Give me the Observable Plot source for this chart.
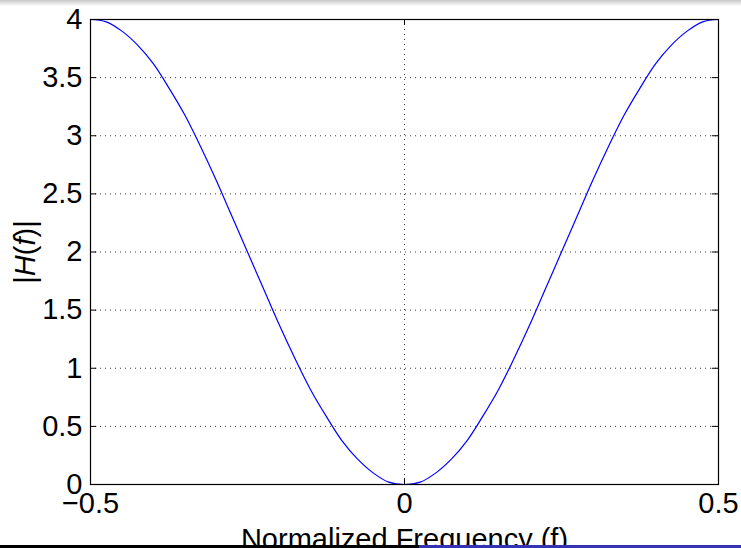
<!DOCTYPE html>
<html><head><meta charset="utf-8">
<script src="https://cdn.jsdelivr.net/npm/d3@7"></script>
<script src="https://cdn.jsdelivr.net/npm/@observablehq/plot@0.6"></script>
<style>
html,body{margin:0;padding:0;background:#fff;width:741px;height:548px;overflow:hidden;}
#wrap{position:relative;width:741px;height:548px;}
#wrap svg{position:absolute;left:0;top:0;}
#shade{position:absolute;left:0;top:0;width:741px;height:6px;background:linear-gradient(#c6c6c6,#ffffff);z-index:2;}
#barK{position:absolute;left:0;top:545px;width:419px;height:3px;background:#000;z-index:2;}
#barB{position:absolute;left:419px;top:545px;width:322px;height:3px;background:#3333b3;z-index:2;}
</style></head><body><div id="wrap"><div id="shade"></div><div id="barK"></div><div id="barB"></div></div>
<script>
const freq = [-0.5, -0.475, -0.45, -0.425, -0.4, -0.375, -0.35, -0.325, -0.3, -0.275, -0.25,
  -0.225, -0.2, -0.175, -0.15, -0.125, -0.1, -0.075, -0.05, -0.025, 0,
  0.025, 0.05, 0.075, 0.1, 0.125, 0.15, 0.175, 0.2, 0.225, 0.25,
  0.275, 0.3, 0.325, 0.35, 0.375, 0.4, 0.425, 0.45, 0.475, 0.5];
const magnitude = [4.00, 3.98, 3.90, 3.78, 3.62, 3.41, 3.18, 2.91, 2.62, 2.31, 2.00,
  1.69, 1.38, 1.09, 0.82, 0.59, 0.38, 0.22, 0.10, 0.02, 0.00,
  0.02, 0.10, 0.22, 0.38, 0.59, 0.82, 1.09, 1.38, 1.69, 2.00,
  2.31, 2.62, 2.91, 3.18, 3.41, 3.62, 3.78, 3.90, 3.98, 4.00];
const xTicks = [-0.5, 0, 0.5];
const yTicks = [0, 0.5, 1, 1.5, 2, 2.5, 3, 3.5, 4];
const xTickLabels = ["\u22120.5", "0", "0.5"];
const yTickLabels = ["0", "0.5", "1", "1.5", "2", "2.5", "3", "3.5", "4"];
const xLabel = "Normalized Frequency (f)";
const yLabel = "|H(f)|";

const data = freq.map((f, i) => ({f, h: magnitude[i]}));
const xMin = d3.min(xTicks), xMax = d3.max(xTicks);
const yMin = d3.min(yTicks), yMax = d3.max(yTicks);

const chart = Plot.plot({
  width: 741, height: 548,
  marginLeft: 90, marginRight: 23, marginTop: 19, marginBottom: 64,
  style: {fontFamily: "'Liberation Sans', Arial, Helvetica, sans-serif", fontSize: "29px", background: "transparent", color: "black", overflow: "visible"},
  x: {domain: [xMin, xMax]},
  y: {domain: [yMin, yMax]},
  marks: [
    Plot.gridY(yTicks.filter(v => v > yMin && v < yMax), {stroke: "#222", strokeOpacity: 0.9, strokeDasharray: "1,4"}),
    Plot.gridX(xTicks.filter(v => v > xMin && v < xMax), {stroke: "#222", strokeOpacity: 0.9, strokeDasharray: "1,4"}),
    Plot.ruleY(yTicks, {x1: xMin, x2: xMin + 0.01, stroke: "black"}),
    Plot.ruleY(yTicks, {x1: xMax - 0.01, x2: xMax, stroke: "black"}),
    Plot.ruleX(xTicks, {y1: yMin, y2: yMin + 0.05, stroke: "black"}),
    Plot.ruleX(xTicks, {y1: yMax - 0.05, y2: yMax, stroke: "black"}),
    Plot.line(data, {x: "f", y: "h", stroke: "#0000ff", strokeWidth: 1.2, curve: "catmull-rom"}),
    Plot.frame({stroke: "black", strokeWidth: 1.2}),
    Plot.axisX(xTicks, {tickSize: 0, tickPadding: 8, label: null, tickFormat: (d, i) => xTickLabels[xTicks.indexOf(d)]}),
    Plot.axisY(yTicks, {tickSize: 0, tickPadding: 8, label: null, tickFormat: (d) => yTickLabels[yTicks.indexOf(d)]}),
    Plot.text([xLabel], {text: d => d, frameAnchor: "bottom", dy: 64, lineAnchor: "bottom", textAnchor: "middle"}),
    Plot.text([yLabel], {text: d => d, frameAnchor: "left", dx: -65, rotate: -90, textAnchor: "middle", lineAnchor: "middle"})
  ]
});
document.getElementById("wrap").prepend(chart);

// italic H and f in the y label
d3.select(chart).selectAll("text").each(function() {
  if (this.textContent === yLabel) {
    const t = d3.select(this);
    t.text(null);
    const parts = [["|", "normal"], ["H", "italic"], ["(", "normal"], ["f", "italic"], [")", "normal"], ["|", "normal"]];
    for (const [s, st] of parts) t.append("tspan").attr("font-style", st).text(s);
  }
});
</script>
</body></html>
